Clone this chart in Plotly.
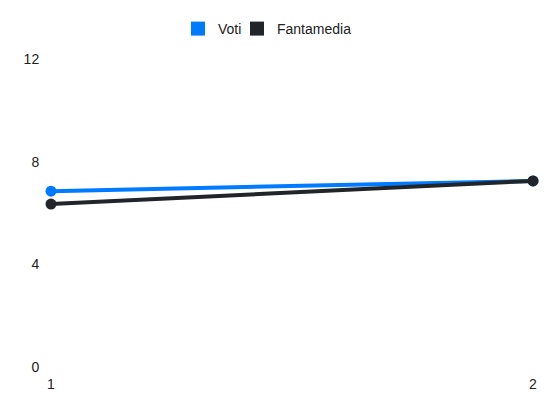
import plotly.graph_objects as go

giornate = [1, 2]
voti = [6.85, 7.25]
fantamedia = [6.35, 7.25]
y_ticks = [0, 4, 8, 12]

blue = "#007BFF"
dark = "#212529"

# the page body adds an 8px offset; compensate in margins
OFF = 8
W, H = 550, 412

fig = go.Figure()
fig.add_trace(go.Scatter(x=giornate, y=voti, mode="lines+markers", name="Voti",
                         line=dict(color=blue, width=4), marker=dict(color=blue, size=11),
                         showlegend=False, cliponaxis=False))
fig.add_trace(go.Scatter(x=giornate, y=fantamedia, mode="lines+markers", name="Fantamedia",
                         line=dict(color=dark, width=4), marker=dict(color=dark, size=11),
                         showlegend=False, cliponaxis=False))
# legend entries with square swatches
fig.add_trace(go.Scatter(x=[None], y=[None], mode="markers", name="Voti", legend="legend",
                         marker=dict(color=blue, size=14, symbol="square")))
fig.add_trace(go.Scatter(x=[None], y=[None], mode="markers", name="Fantamedia", legend="legend2",
                         marker=dict(color=dark, size=14, symbol="square")))

leg_common = dict(orientation="h", xanchor="left", y=1 - (29 - OFF) / H, yanchor="middle",
                  yref="container", xref="container", itemsizing="trace",
                  bgcolor="rgba(0,0,0,0)",
                  font=dict(size=14, color="#222"), itemwidth=30)

fig.update_layout(
    width=W, height=H,
    margin=dict(l=51 - OFF, r=W - (533 - OFF), t=59 - OFF, b=H - (367 - OFF), autoexpand=False),
    paper_bgcolor="white", plot_bgcolor="white",
    font=dict(family="Liberation Sans, Arial, sans-serif", size=14, color="#222"),
    legend=dict(x=(178 - OFF) / W, **leg_common),
    legend2=dict(x=(237 - OFF) / W, **leg_common),
    xaxis=dict(range=[1, 2], tickvals=giornate, ticktext=[str(g) for g in giornate],
               showgrid=False, zeroline=False, showline=False, automargin=False,
               ticks="outside", ticklen=4, tickcolor="rgba(0,0,0,0)"),
    yaxis=dict(range=[0, 12], tickvals=y_ticks, ticktext=[str(t) for t in y_ticks],
               showgrid=False, zeroline=False, showline=False, automargin=False,
               ticks="outside", ticklen=8, tickcolor="rgba(0,0,0,0)"),
)

fig.write_html("out.html")
